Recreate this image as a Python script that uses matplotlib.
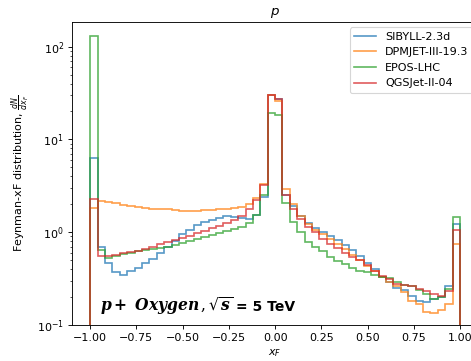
import matplotlib
matplotlib.use('Agg')
import matplotlib.pyplot as plt
from matplotlib.transforms import offset_copy
import numpy as np

# bin edges of the Feynman-x histogram (50 bins on [-1, 1])
edges = np.linspace(-1.0, 1.0, 51)

sibyll = [6.3, 0.69, 0.46, 0.37, 0.35, 0.38, 0.41, 0.46, 0.52, 0.60,
          0.70, 0.80, 0.95, 1.05, 1.20, 1.28, 1.35, 1.42, 1.48, 1.45,
          1.42, 1.40, 1.55, 2.40, 30.0, 27.0, 2.5, 1.9, 1.5, 1.25,
          1.12, 1.0, 0.92, 0.82, 0.72, 0.64, 0.56, 0.47, 0.40, 0.33,
          0.29, 0.25, 0.237, 0.205, 0.18, 0.177, 0.19, 0.20, 0.26, 1.22]
dpmjet = [1.83, 2.15, 2.12, 2.05, 1.98, 1.9, 1.86, 1.82, 1.8, 1.78,
          1.76, 1.74, 1.70, 1.68, 1.70, 1.72, 1.74, 1.76, 1.78, 1.82,
          1.88, 2.0, 2.35, 3.3, 29.8, 26.0, 2.9, 2.0, 1.5, 1.22,
          1.06, 0.95, 0.84, 0.74, 0.66, 0.57, 0.50, 0.43, 0.38, 0.33,
          0.29, 0.26, 0.227, 0.18, 0.17, 0.138, 0.135, 0.144, 0.17, 0.74]
epos = [130, 0.65, 0.53, 0.56, 0.58, 0.60, 0.62, 0.64, 0.66, 0.68,
        0.70, 0.72, 0.76, 0.80, 0.84, 0.88, 0.93, 0.98, 1.03, 1.08,
        1.15, 1.25, 1.55, 2.5, 19.2, 18.4, 2.06, 1.3, 1.0, 0.78,
        0.70, 0.62, 0.54, 0.49, 0.45, 0.41, 0.38, 0.37, 0.35, 0.33,
        0.32, 0.29, 0.27, 0.26, 0.237, 0.218, 0.19, 0.20, 0.244, 1.45]
qgsjet = [2.26, 0.55, 0.55, 0.57, 0.59, 0.61, 0.63, 0.66, 0.70, 0.74,
          0.78, 0.82, 0.87, 0.92, 0.98, 1.04, 1.10, 1.17, 1.25, 1.35,
          1.50, 1.80, 2.25, 3.25, 30.3, 27.5, 2.5, 1.8, 1.4, 1.15,
          1.0, 0.85, 0.75, 0.67, 0.60, 0.54, 0.50, 0.44, 0.38, 0.34,
          0.31, 0.28, 0.27, 0.26, 0.244, 0.23, 0.218, 0.206, 0.23, 1.06]

models = ['SIBYLL-2.3d', 'DPMJET-III-19.3', 'EPOS-LHC', 'QGSJet-II-04']
series = [sibyll, dpmjet, epos, qgsjet]
colors = ['#1f77b4', '#ff7f0e', '#2ca02c', '#d62728']

fig = plt.figure(figsize=(471 / 80, 361 / 80), dpi=80)
ax = fig.add_axes([0.1522, 0.0997, 0.8637, 0.840])

for vals, name, c in zip(series, models, colors):
    ax.stairs(vals, edges, label=name, color=c, alpha=0.75, linewidth=1.5)

ax.set_yscale('log')
ax.set_xlim(-1.1, 1.1)
ax.set_ylim(0.1, 185)
ax.set_xticks(np.arange(-1.0, 1.01, 0.25))

ax.set_title('$p$')
ax.set_xlabel('$x_F$')
ax.set_ylabel(r'Feynman-xF distribution, $\frac{dN}{dx_F}$')
ax.legend(loc='upper right')

# collision label: bold-italic serif math part, then bold sans energy
t1 = ax.text(0.07, 0.046, r'$\mathbfit{p +\ Oxygen}\,,\sqrt{\mathbfit{s}}$',
             transform=ax.transAxes, fontsize=14,
             math_fontfamily='dejavuserif', va='baseline')
fig.canvas.draw()
bb = t1.get_window_extent()
x_after = ax.transAxes.inverted().transform((bb.x1, bb.y0))[0]
ax.text(x_after, 0.046, '= 5 TeV',
        transform=offset_copy(ax.transAxes, fig=fig, x=3, y=0, units='dots'),
        fontsize=12.5, fontweight='bold', va='baseline')

fig.savefig('out.png', dpi=80)
